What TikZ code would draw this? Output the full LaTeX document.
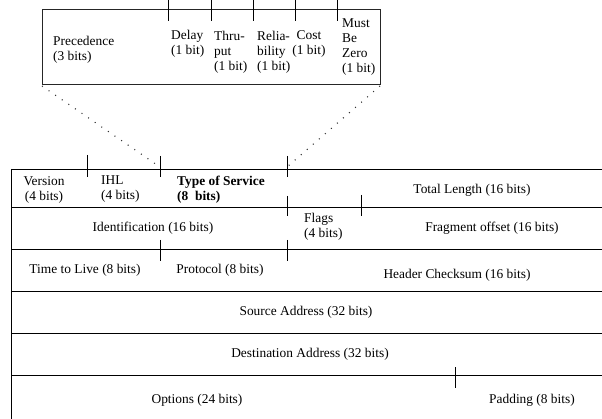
\documentclass[tikz,border=0pt]{standalone}
\usepackage{fontspec}
\setmainfont{Liberation Serif}
\begin{document}
\begin{tikzpicture}[x=1pt,y=-1pt,
  font=\fontsize{13.4}{15}\selectfont,
  lbl/.style={inner sep=0pt},
  rule/.style={line width=0.8pt, draw=black},
  dotline/.style={line width=1.1pt, dash pattern=on 1pt off 7pt, draw=black!80}]
\useasboundingbox (0,0) rectangle (602,419);

% ---- expanded Type of Service byte ----
\draw[rule, draw=black!85] (42,9) rectangle (380,84);
\foreach \x in {168,211,253,295,337} \draw[rule] (\x,0) -- (\x,21);

\node[lbl, anchor=west, align=left] (prec) at (53,50) {Precedence\\(3 bits)};
\node[lbl, anchor=west, align=left] (delay) at (171,44) {Delay\\(1 bit)};
\node[lbl, anchor=west, align=left] (thru) at (214,52) {Thru-\\put\\(1 bit)};
\node[lbl, anchor=west, align=left] (relia) at (257,52) {Relia-\\bility\\(1 bit)};
\node[lbl, align=center] (cost) at (309,44) {Cost\\(1 bit)};
\node[lbl, anchor=west, align=left] (mbz) at (342,47.5) {Must\\Be\\Zero\\(1 bit)};

% ---- dotted zoom lines ----
\coordinate (boxL) at (42,86);
\coordinate (boxR) at (380,86);
\coordinate (tosL) at (160,167);
\coordinate (tosR) at (287,167);
\draw[dotline] (boxL) -- (tosL);
\draw[dotline] (boxR) -- (tosR);

% ---- header table ----
\foreach \y in {169,207,249,291,333,375} \draw[rule] (11,\y) -- (602,\y);
\draw[rule] (11,169) -- (11,419);

\draw[rule] (87,155) -- (87,177);
\draw[rule] (160,156) -- (160,177);
\draw[rule] (287,156) -- (287,177);
\draw[rule] (287,196) -- (287,216);
\draw[rule] (361,195) -- (361,216);
\draw[rule] (160,240) -- (160,261);
\draw[rule] (287,240) -- (287,261);
\draw[rule] (455,367) -- (455,388);

\node[lbl, align=center] (ver) at (44,189.5) {Version\\(4 bits)};
\node[lbl, anchor=west, align=left] (ihl) at (101,189.5) {IHL\\(4 bits)};
\node[lbl, anchor=west, align=left, font=\fontsize{13.4}{15}\selectfont\bfseries] (tos) at (177,189.5) {Type of Service\\(8\ \ bits)};
\node[lbl] (len) at (472,190) {Total Length (16 bits)};

\node[lbl] (ident) at (153,228) {Identification (16 bits)};
\node[lbl, anchor=west, align=left] (flags) at (304,227) {Flags\\(4 bits)};
\node[lbl] (frag) at (492,228) {Fragment offset (16 bits)};

\node[lbl] (ttl) at (85,270) {Time to Live (8 bits)};
\node[lbl] (proto) at (220,270) {Protocol (8 bits)};
\node[lbl] (chk) at (457,275) {Header Checksum (16 bits)};

\node[lbl] (src) at (306,312) {Source Address (32 bits)};
\node[lbl] (dst) at (310,354) {Destination Address (32 bits)};

\node[lbl] (opt) at (197,400) {Options (24 bits)};
\node[lbl] (pad) at (532,400) {Padding (8 bits)};
\end{tikzpicture}
\end{document}
